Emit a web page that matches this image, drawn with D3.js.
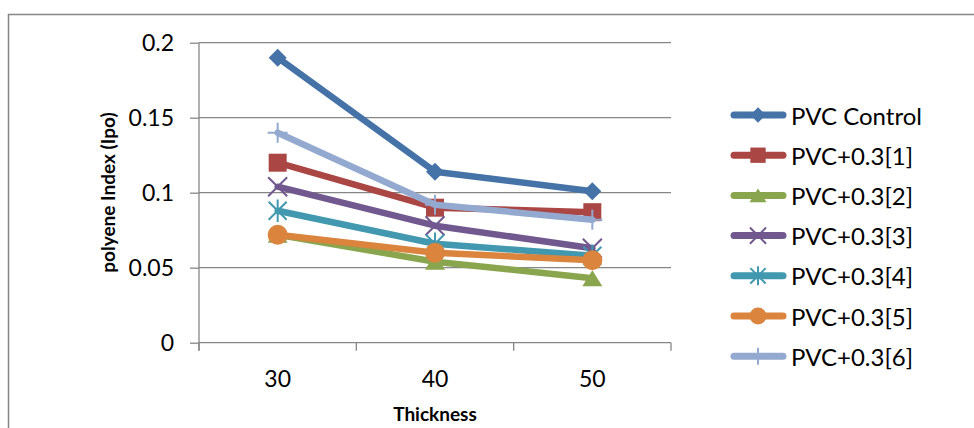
<!DOCTYPE html>
<html>
<head>
<meta charset="utf-8">
<script src="https://cdn.jsdelivr.net/npm/d3@7"></script>
<style>
  html, body { margin: 0; padding: 0; background: #fff; }
  svg { display: block; }
  text { font-family: Lato, "Open Sans", "Liberation Sans", sans-serif; fill: #000; }
</style>
</head>
<body>
<svg id="chart" width="974" height="428"></svg>
<script>
// ---- data ----
const categories = ["30", "40", "50"];
const seriesNames = ["PVC Control", "PVC+0.3[1]", "PVC+0.3[2]", "PVC+0.3[3]", "PVC+0.3[4]", "PVC+0.3[5]", "PVC+0.3[6]"];
const pvcControl = [0.190, 0.114, 0.101];
const pvc1 = [0.120, 0.090, 0.087];
const pvc2 = [0.072, 0.054, 0.043];
const pvc3 = [0.104, 0.078, 0.063];
const pvc4 = [0.088, 0.066, 0.058];
const pvc5 = [0.072, 0.060, 0.055];
const pvc6 = [0.140, 0.092, 0.082];
const yTicks = [0, 0.05, 0.1, 0.15, 0.2];
const yTickLabels = ["0", "0.05", "0.1", "0.15", "0.2"];
const colors = ["#4572A7", "#AA4643", "#89A54E", "#71588F", "#4198AF", "#DB843D", "#93A9CF"];
const markerTypes = ["diamond", "square", "triangle", "x", "star", "circle", "plus"];
const xTitle = "Thickness";
const yTitle = "polyene Index (Ipo)";

const seriesValues = [pvcControl, pvc1, pvc2, pvc3, pvc4, pvc5, pvc6];
const series = seriesNames.map((name, i) => ({
  name, values: seriesValues[i], color: colors[i], marker: markerTypes[i]
}));

// ---- layout ----
const svg = d3.select("#chart");
const plot = { left: 199, right: 671, top: 42.7, bottom: 342.7 };
const gridColor = "#868686";

// outer frame
svg.append("rect")
  .attr("x", 8.5).attr("y", 14.5)
  .attr("width", 1000).attr("height", 500)
  .attr("fill", "none").attr("stroke", gridColor).attr("stroke-width", 1.5);

const x = d3.scaleBand().domain(categories).range([plot.left, plot.right]).padding(0);
const y = d3.scaleLinear().domain([0, 0.2]).range([plot.bottom, plot.top]);

// gridlines
svg.append("g")
  .selectAll("line")
  .data(yTicks.filter(t => t > 0))
  .join("line")
  .attr("x1", plot.left).attr("x2", plot.right)
  .attr("y1", d => y(d)).attr("y2", d => y(d))
  .attr("stroke", gridColor).attr("stroke-width", 1.3);

// y axis
const yAxis = d3.axisLeft(y)
  .tickValues(yTicks)
  .tickFormat((d, i) => yTickLabels[i])
  .tickSize(9)
  .tickPadding(16);
const gy = svg.append("g").attr("transform", `translate(${plot.left},0)`).call(yAxis);
gy.select(".domain").remove();
gy.selectAll(".tick line").attr("stroke", gridColor).attr("stroke-width", 1.3);
gy.selectAll(".tick text").attr("font-size", 23).attr("font-family", "Lato, 'Open Sans', sans-serif").attr("fill", "#000");
svg.append("line")
  .attr("x1", plot.left).attr("x2", plot.left)
  .attr("y1", plot.top).attr("y2", plot.bottom + 8)
  .attr("stroke", gridColor).attr("stroke-width", 1.3);

// x axis
svg.append("line")
  .attr("x1", plot.left).attr("x2", plot.right)
  .attr("y1", plot.bottom).attr("y2", plot.bottom)
  .attr("stroke", gridColor).attr("stroke-width", 1.3);
const boundaries = categories.map(c => x(c)).concat([x(categories[categories.length - 1]) + x.bandwidth()]);
svg.append("g").selectAll("line")
  .data(boundaries)
  .join("line")
  .attr("x1", d => d).attr("x2", d => d)
  .attr("y1", plot.bottom).attr("y2", plot.bottom + 8)
  .attr("stroke", gridColor).attr("stroke-width", 1.3);
svg.append("g").selectAll("text")
  .data(categories)
  .join("text")
  .attr("x", d => x(d) + x.bandwidth() / 2)
  .attr("y", 378)
  .attr("text-anchor", "middle")
  .attr("dominant-baseline", "central")
  .attr("font-size", 23)
  .text(d => d);

// axis titles
svg.append("text")
  .attr("x", (plot.left + plot.right) / 2)
  .attr("y", 413)
  .attr("text-anchor", "middle")
  .attr("dominant-baseline", "central")
  .attr("font-size", 19).attr("font-weight", "bold")
  .text(xTitle);
svg.append("text")
  .attr("transform", "translate(107,192.5) rotate(-90)")
  .attr("text-anchor", "middle")
  .attr("dominant-baseline", "central")
  .attr("font-size", 19).attr("font-weight", "bold")
  .text(yTitle);

// ---- markers ----
function drawMarker(g, type, color, k) {
  const s = k || 1;
  if (type === "diamond") {
    const r = 9 * s;
    g.append("path").attr("d", `M0,${-r}L${r},0L0,${r}L${-r},0Z`).attr("fill", color);
  } else if (type === "square") {
    const h = 9 * s;
    g.append("rect").attr("x", -h).attr("y", -h).attr("width", 2 * h).attr("height", 2 * h).attr("fill", color);
  } else if (type === "triangle") {
    const w = 10 * s, h = 8 * s;
    g.append("path").attr("d", `M0,${-h}L${w},${h}L${-w},${h}Z`).attr("fill", color);
  } else if (type === "circle") {
    g.append("circle").attr("r", 10 * s).attr("fill", color);
  } else if (type === "x") {
    const r = 9.5 * s;
    g.append("path").attr("d", `M${-r},${-r}L${r},${r}M${-r},${r}L${r},${-r}`)
      .attr("stroke", color).attr("stroke-width", 2).attr("fill", "none");
  } else if (type === "star") {
    const r = 9 * s;
    g.append("path").attr("d", `M${-r},${-r}L${r},${r}M${-r},${r}L${r},${-r}M0,${-r * 1.25}L0,${r * 1.25}`)
      .attr("stroke", color).attr("stroke-width", 2).attr("fill", "none");
  } else if (type === "plus") {
    const r = 10 * s;
    g.append("path").attr("d", `M${-r},0L${r},0M0,${-r}L0,${r}`)
      .attr("stroke", color).attr("stroke-width", 2).attr("fill", "none");
  }
}

// ---- series ----
const line = d3.line()
  .x((d, i) => x(categories[i]) + x.bandwidth() / 2)
  .y(d => y(d));

series.forEach(s => {
  const g = svg.append("g");
  g.append("path")
    .attr("d", line(s.values))
    .attr("fill", "none")
    .attr("stroke", s.color)
    .attr("stroke-width", 6.5)
    .attr("stroke-linejoin", "round")
    .attr("stroke-linecap", "round");
  s.values.forEach((v, i) => {
    const mg = g.append("g").attr("transform", `translate(${x(categories[i]) + x.bandwidth() / 2},${y(v)})`);
    drawMarker(mg, s.marker, s.color, 1);
  });
});

// ---- legend ----
const legend = svg.append("g");
series.forEach((s, i) => {
  const cy = 115 + i * 40.2;
  const g = legend.append("g").attr("transform", `translate(0,${cy})`);
  g.append("line")
    .attr("x1", 734).attr("x2", 783).attr("y1", 0).attr("y2", 0)
    .attr("stroke", s.color).attr("stroke-width", 7).attr("stroke-linecap", "round");
  const mg = g.append("g").attr("transform", "translate(758,0)");
  drawMarker(mg, s.marker, s.color, 0.85);
  g.append("text")
    .attr("x", 791).attr("y", 0)
    .attr("dominant-baseline", "central")
    .attr("font-size", 24)
    .text(s.name);
});
</script>
</body>
</html>
